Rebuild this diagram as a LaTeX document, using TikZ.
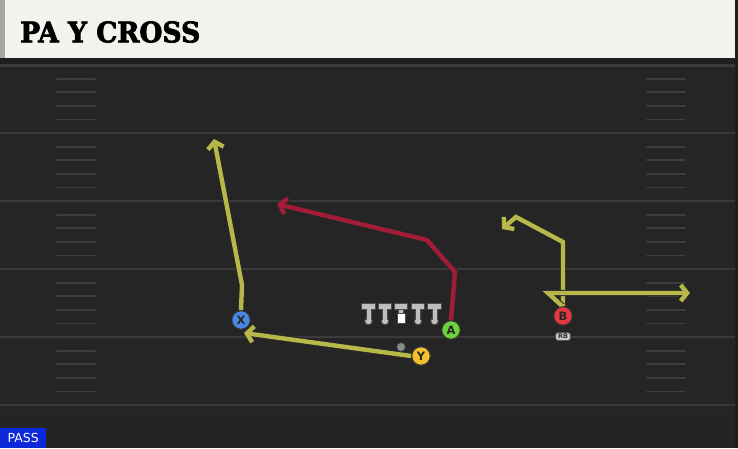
\documentclass[tikz,border=0pt]{standalone}
\usepackage{fontspec}
\setmainfont{DejaVu Sans}
\newfontfamily\titlefont[FakeBold=2.6]{DejaVu Serif Bold}
\usetikzlibrary{arrows.meta}
\definecolor{fieldbg}{HTML}{252525}
\definecolor{fieldline}{HTML}{3A3A3A}
\definecolor{hashc}{HTML}{3E3E3E}
\definecolor{titlebg}{HTML}{F4F2ED}
\definecolor{routeyel}{HTML}{B8B84A}
\definecolor{routered}{HTML}{A21C36}
\definecolor{cblue}{HTML}{4A88E2}
\definecolor{cgreen}{HTML}{6ED23C}
\definecolor{cyellow}{HTML}{F2C12E}
\definecolor{cred}{HTML}{E4383E}
\definecolor{passblue}{HTML}{0B28DA}
\definecolor{linegrey}{HTML}{BEBEBE}
\tikzset{
  x=1pt,y=-1pt,
  player/.style={circle,draw=black!80,line width=1pt,minimum size=18.5pt,inner sep=0pt,
    font=\fontsize{11.5}{11.5}\selectfont\bfseries,text=black!85},
  route/.style={line width=4.4pt,line join=miter,
    preaction={draw=black!85,line width=6.4pt},
    -{Straight Barb[length=6.5pt,width=16pt]}},
  yardline/.style={fieldline,line width=2.8pt},
  hashmark/.style={hashc,line width=1.8pt,line cap=round},
  lineman/.style={fill=linegrey,draw=black!70,line width=0.8pt},
}
\begin{document}
\begin{tikzpicture}
\useasboundingbox (0,0) rectangle (738,448);
% backgrounds
\fill[fieldbg] (0,0) rectangle (738,448);
\fill[black!88] (0,56) rectangle (738,64);
\fill[black!86] (0,418) rectangle (738,448);
\fill[black!88] (735,0) rectangle (738,448);
\fill[titlebg] (0,0) rectangle (735,58);
\fill[black!35] (0,0) rectangle (5,58);
\node[anchor=west,inner sep=0pt] (title) at (20,32)
  {\resizebox{180pt}{21pt}{\titlefont PA Y CROSS}};
% yard lines
\foreach \yy in {133,201,269,337,405} \draw[yardline] (0,\yy) -- (735,\yy);
\draw[yardline] (0,65.5) -- (735,65.5);
% hash marks
\foreach \b in {65,133,201,269,337} {
  \foreach \k in {1,2,3,4} {
    \draw[hashmark] (57,\b+\k*13.6) -- (95,\b+\k*13.6);
    \draw[hashmark] (647,\b+\k*13.6) -- (685,\b+\k*13.6);
  }
}
% players
\node[player,fill=cblue] (X) at (241,320) {X};
\node[player,fill=cyellow] (Y) at (421,356) {Y};
\node[player,fill=cgreen] (A) at (451,330) {A};
\node[player,fill=cred] (B) at (563,316) {B};
\node[fill=linegrey!85,draw=black!70,line width=0.6pt,rounded corners=2.5pt,
  inner xsep=2.5pt,inner ysep=1.5pt,font=\fontsize{6.5}{6.5}\selectfont\bfseries,text=black!80]
  (RB) at (563,336.5) {RB};
% route coordinates
\coordinate (x1) at (242,285);
\coordinate (x2) at (214,139);
\coordinate (y1) at (244,333);
\coordinate (a1) at (455,272);
\coordinate (a2) at (427,240);
\coordinate (a3) at (277,204);
\coordinate (b1) at (563,242);
\coordinate (b2) at (516,217);
\coordinate (b3) at (502,229);
\coordinate (c1) at (561,305);
\coordinate (c2) at (548,293);
\coordinate (c3) at (690,293);
% routes
\draw[route,routeyel] (X.north) -- (x1) -- (x2);
\draw[route,routeyel] (Y.west) -- (y1);
\draw[route,routered] (A.north) -- (a1) -- (a2) -- (a3);
\draw[route,routeyel] (B.north) -- (b1) -- (b2) -- (b3);
\draw[route,routeyel] (B.north) -- (c1) -- (c2) -- (c3);
% QB dot
\node[circle,fill=black!45,draw=black!70,line width=0.6pt,minimum size=8.5pt,inner sep=0pt] (QB) at (401,347) {};
% redraw players on top
\node[player,fill=cblue] at (X) {X};
\node[player,fill=cyellow] at (Y) {Y};
\node[player,fill=cgreen] at (A) {A};
\node[player,fill=cred] at (B) {B};
% offensive line
\foreach \xx/\nm in {368.5/LT,385/LG,418/RG,434.5/RT} {
  \node[circle,lineman,minimum size=7.5pt,inner sep=0pt] (\nm) at (\xx,321) {};
  \fill[lineman] (\xx-6.8,303.5) rectangle (\xx+6.8,309.5);
  \fill[lineman] (\xx-2.4,309) rectangle (\xx+2.4,319);
  \fill[linegrey] (\xx-6.3,304) rectangle (\xx+6.3,309);
  \fill[linegrey] (\xx-2,308) rectangle (\xx+2,319.5);
}
\fill[lineman] (401-6.8,303.5) rectangle (401+6.8,309.5);
\fill[lineman] (401-2.4,309) rectangle (401+2.4,313);
\fill[linegrey] (401-6.3,304) rectangle (401+6.3,309);
\node[fill=white,draw=black!70,line width=0.6pt,minimum width=8pt,minimum height=10pt,inner sep=0pt] (C) at (401,318) {};
% PASS label
\node[fill=passblue,text=white,anchor=south west,inner xsep=3pt,inner ysep=2pt,
  minimum height=20pt,minimum width=46pt,font=\fontsize{12.5}{12.5}\selectfont] (pass) at (0,448) {PASS};
\end{tikzpicture}
\end{document}
